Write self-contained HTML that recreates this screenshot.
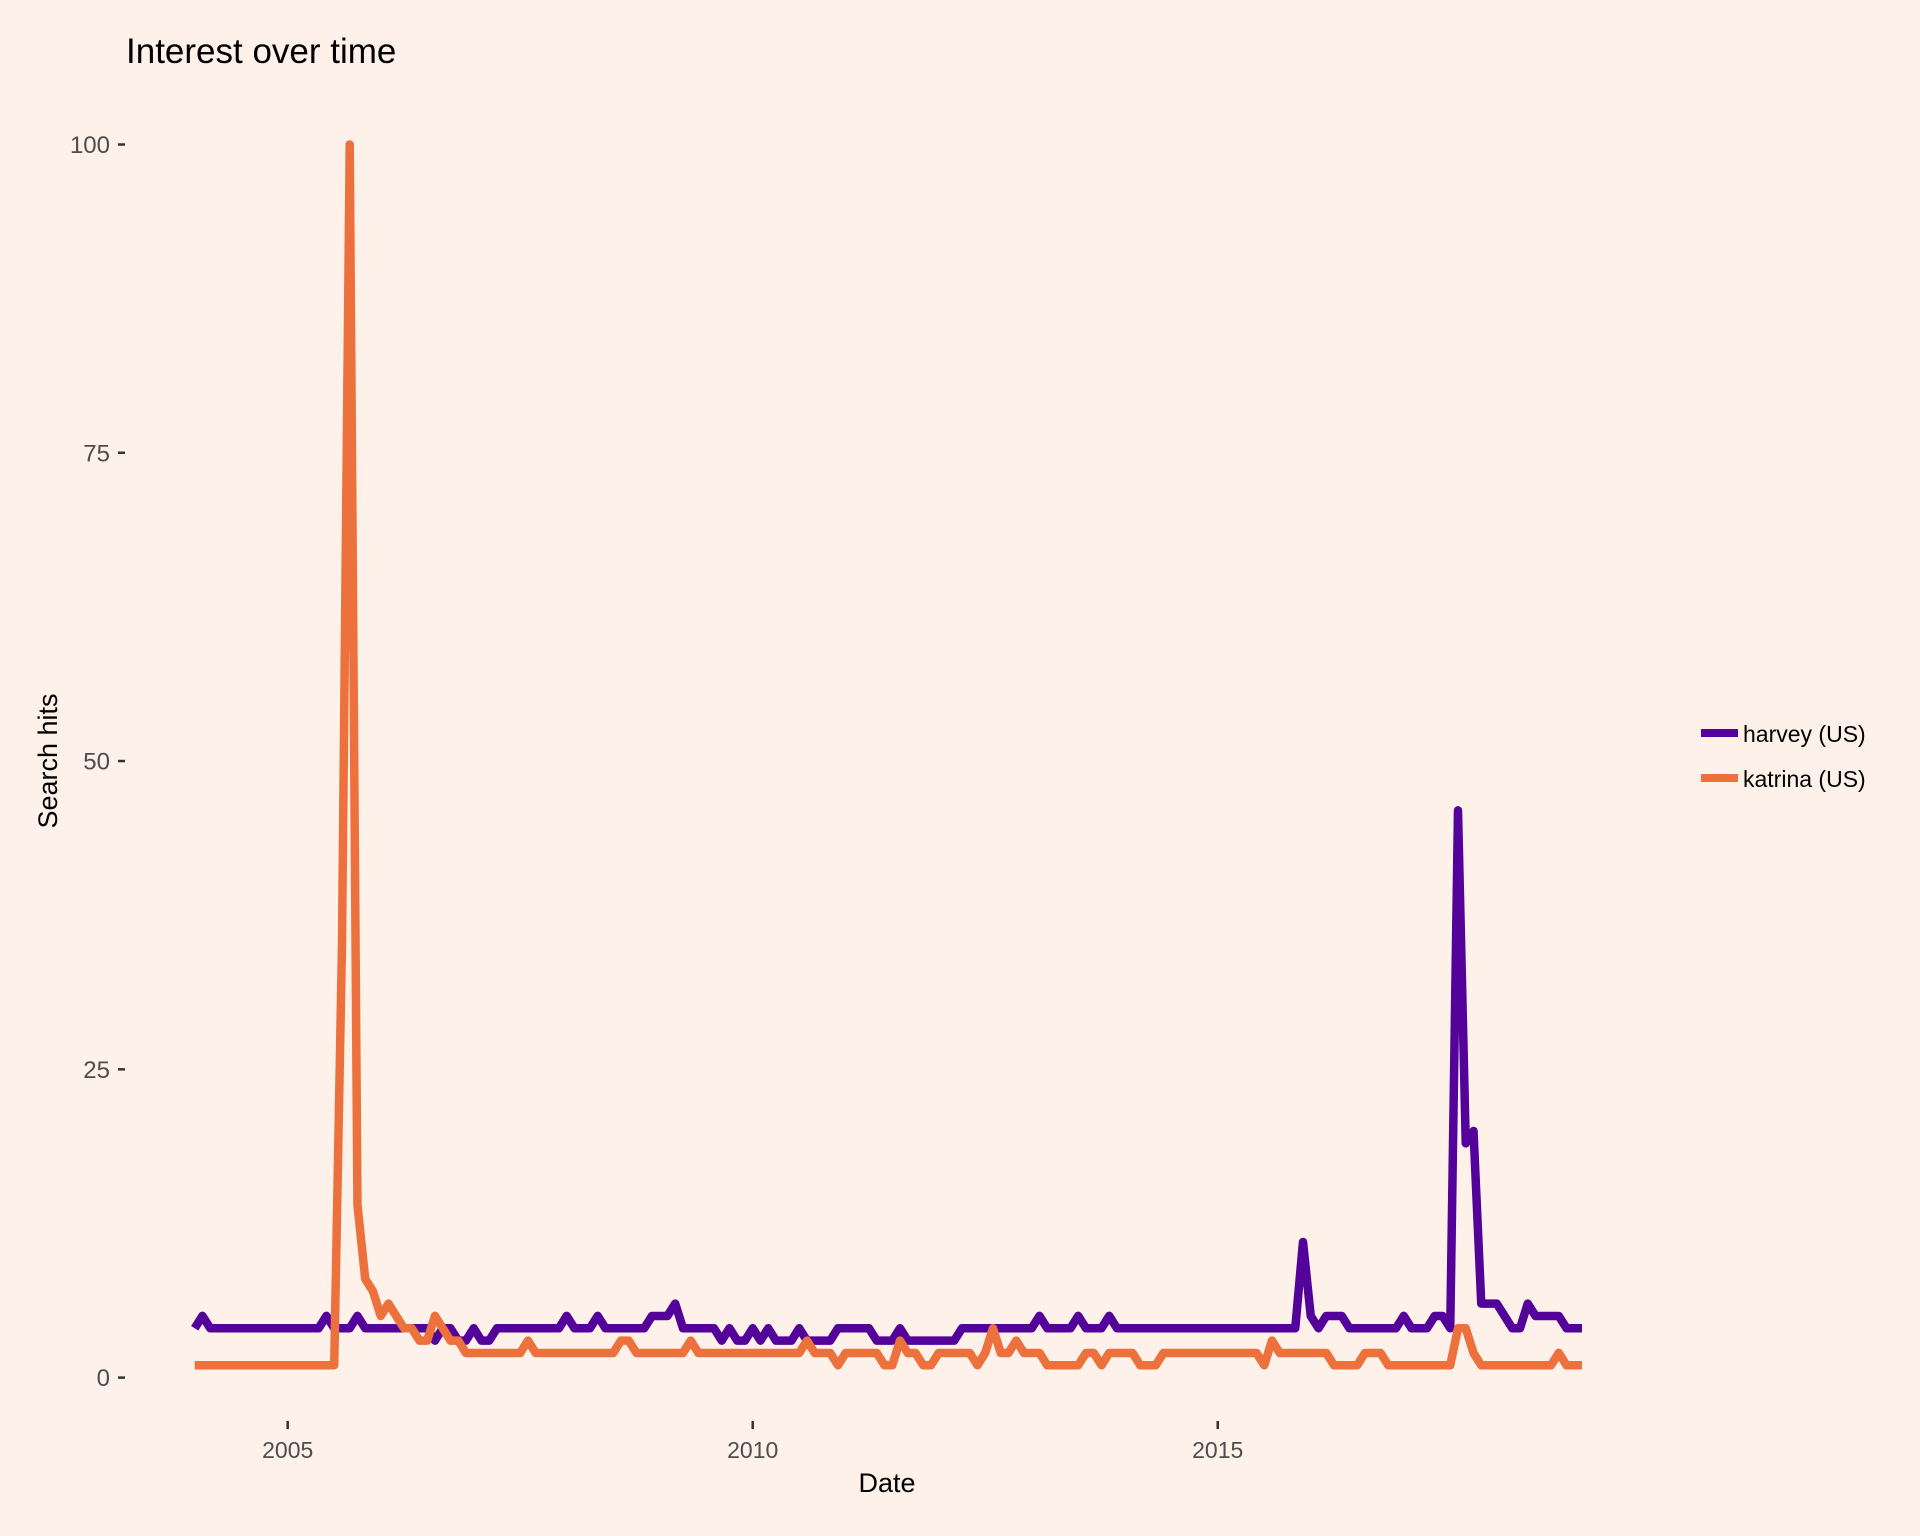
<!DOCTYPE html>
<html><head><meta charset="utf-8"><style>
html,body{margin:0;padding:0;background:#fef1ea;}
svg{display:block;font-family:"Liberation Sans",Arial,sans-serif;}
</style></head><body>
<svg id="chart" width="1920" height="1536" viewBox="0 0 1920 1536">
<rect width="1920" height="1536" fill="#fef1ea"/>
<text x="126" y="63" font-size="35" fill="#000">Interest over time</text>
<text x="887" y="1492" font-size="27" fill="#000" text-anchor="middle">Date</text>
<text transform="translate(57,761) rotate(-90)" font-size="27" fill="#000" text-anchor="middle">Search hits</text>
<g id="axes"></g>
<g id="series"></g>
<g>
<line x1="1701" y1="733" x2="1738" y2="733" stroke="#54039a" stroke-width="8"/>
<text x="1743" y="742" font-size="23" fill="#000">harvey (US)</text>
<line x1="1701" y1="778" x2="1738" y2="778" stroke="#ec713c" stroke-width="8"/>
<text x="1743" y="787" font-size="23" fill="#000">katrina (US)</text>
</g>
</svg>
<script>
const harvey = [4,5,4,4,4,4,4,4,4,4, 4,4,4,4,4,4,4,5,4,4, 4,5,4,4,4,4,4,4,4,4,
 4,3,4,4,3,3,4,3,3,4, 4,4,4,4,4,4,4,4,5,4, 4,4,5,4,4,4,4,4,4,5,
 5,5,6,4,4,4,4,4,3,4, 3,3,4,3,4,3,3,3,4,3, 3,3,3,4,4,4,4,4,3,3,
 3,4,3,3,3,3,3,3,3,4, 4,4,4,4,4,4,4,4,4,5, 4,4,4,4,5,4,4,4,5,4,
 4,4,4,4,4,4,4,4,4,4, 4,4,4,4,4,4,4,4,4,4, 4,4,4,11,5,4,5,5,5,4,
 4,4,4,4,4,4,5,4,4,4, 5,5,4,46,19,20,6,6,6,5, 4,4,6,5,5,5,5,4,4,4];
const katrina = [1,1,1,1,1,1,1,1,1,1, 1,1,1,1,1,1,1,1,1,35, 100,14,8,7,5,6,5,4,4,3,
 3,5,4,3,3,2,2,2,2,2, 2,2,2,3,2,2,2,2,2,2, 2,2,2,2,2,3,3,2,2,2,
 2,2,2,2,3,2,2,2,2,2, 2,2,2,2,2,2,2,2,2,3, 2,2,2,1,2,2,2,2,2,1,
 1,3,2,2,1,1,2,2,2,2, 2,1,2,4,2,2,3,2,2,2, 1,1,1,1,1,2,2,1,2,2,
 2,2,1,1,1,2,2,2,2,2, 2,2,2,2,2,2,2,2,1,3, 2,2,2,2,2,2,2,1,1,1,
 1,2,2,2,1,1,1,1,1,1, 1,1,1,4,4,2,1,1,1,1, 1,1,1,1,1,1,2,1,1,1];
const startYear = 2004;
const yTicks = [0,25,50,75,100];
const xTickYears = [2005,2010,2015];

const NS="http://www.w3.org/2000/svg";
const X0=194.7, X1=1582, Y0=1377.6, Y100=144.5;
const n=harvey.length;
function xs(i){return X0+(X1-X0)*i/(n-1);}
function ys(v){return Y0+(Y100-Y0)*v/100;}
function mk(tag,attrs){const e=document.createElementNS(NS,tag);for(const k in attrs)e.setAttribute(k,attrs[k]);return e;}
const axes=document.getElementById('axes');
yTicks.forEach(v=>{
  const t=mk('line',{x1:118,x2:125,y1:ys(v),y2:ys(v),stroke:'#333','stroke-width':2.5});
  
  
  axes.appendChild(t);
  const l=mk('text',{x:110,y:ys(v)+8.5,'font-size':24,fill:'#4d4d4d','text-anchor':'end'});
  l.textContent=v;
  
  
  axes.appendChild(l);
});
xTickYears.forEach(y=>{
  const x=xs((y-startYear)*12);
  const t=mk('line',{x1:x,x2:x,y1:1421,y2:1429,stroke:'#333','stroke-width':2.5});
  
  
  axes.appendChild(t);
  const l=mk('text',{x:x,y:1458,'font-size':23,fill:'#4d4d4d','text-anchor':'middle'});
  l.textContent=y;
  
  
  axes.appendChild(l);
});
const series=document.getElementById('series');
function draw(arr,color,name){
  const d=arr.map((v,i)=>(i?'L':'M')+xs(i).toFixed(2)+' '+ys(v).toFixed(2)).join(' ');
  const p=mk('path',{d:d,fill:'none',stroke:color,'stroke-width':8.5,'stroke-linejoin':'round'});
  
  
  series.appendChild(p);
}
draw(harvey,'#54039a','harvey-line');
draw(katrina,'#ec713c','katrina-line');
</script>
</body></html>
